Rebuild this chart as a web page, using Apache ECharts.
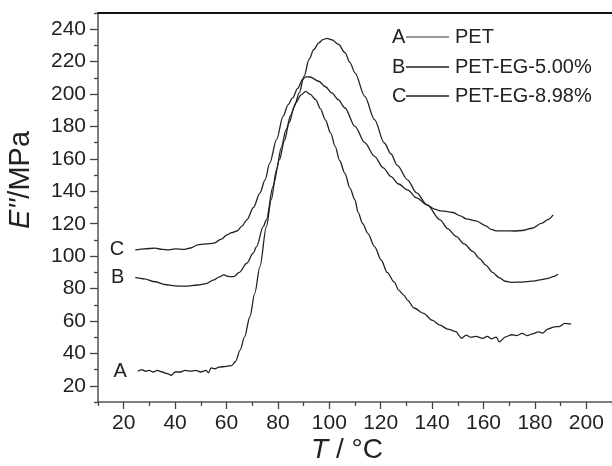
<!DOCTYPE html>
<html>
<head>
<meta charset="utf-8">
<script src="https://cdn.jsdelivr.net/npm/echarts@6/dist/echarts.min.js"></script>
<style>
  html, body { margin: 0; padding: 0; background: #fff; }
  #lossChart { width: 612px; height: 466px; }
</style>
</head>
<body>
<div id="lossChart"></div>
<script>
  // E'' vs T: [T (°C), E'' (MPa)]
  let curveA = [
    [25.5, 29], [27, 30], [28.5, 29], [30, 29.5], [31.5, 28.5], [33, 29.5], [35, 28.5], [37, 27.5], [38.5, 26.5],
    [40, 28.5], [42, 28.5], [44, 29.5], [46, 29], [48, 29.5], [50, 28.5], [52, 29.5], [53, 28], [54, 31],
    [55.5, 30.5], [57, 31.5], [60, 32], [62, 32.5], [63.5, 35], [65.3, 42], [67, 50], [69.1, 62.6], [71, 77],
    [73, 93.5], [75.5, 118], [77.4, 134.7], [79.4, 153], [81.3, 167], [83.2, 178], [85, 187], [87, 194.7],
    [89, 199.5], [90.8, 201.7], [92.5, 200], [94.7, 196.6], [96.5, 191], [98.5, 184], [100.5, 176], [102.3, 167.7],
    [104, 159], [106.1, 151], [108, 142], [110, 134.7], [111.2, 127], [113, 120], [115, 114], [117.6, 105.9],
    [120.2, 97.6], [122.5, 90], [125.3, 84], [127, 79], [129, 76], [130.4, 72.9], [133, 68], [136.7, 64.7],
    [140, 60.5], [143.1, 57.4], [146, 55], [149.5, 53.3], [150.5, 51], [151.4, 49.2], [153.3, 51.2], [155, 50],
    [157, 50.5], [159.7, 49.2], [161.5, 50.5], [163, 49], [165, 50], [166.1, 47.1], [168.6, 50.2], [171, 51.5],
    [173, 51], [175, 52.3], [177, 51], [179, 52], [181.4, 53.3], [183, 52.5], [185, 55], [187.7, 56.4],
    [189.5, 56.5], [191.6, 58.5], [194.1, 58]
  ]
  let curveB = [
    [24.5, 86.9], [28, 86], [32.2, 84.2], [36, 82.5], [39.8, 81.6], [44, 81.5], [48.8, 82.2], [52, 83], [55.1, 85.3],
    [57, 87], [59, 88.4], [60.5, 87.5], [62.8, 87.3], [65, 90], [67.9, 95.6], [70.4, 101.8], [71.7, 105.9],
    [74.3, 118.2], [75.5, 122.4], [78.1, 143], [80.6, 159.5], [82.5, 171], [84.4, 182.2], [86.3, 192], [88.3, 200.7],
    [90.2, 211], [92.1, 221.3], [94, 227.5], [95.9, 231.6], [97.5, 233.6], [99.1, 234.3], [101, 233.5],
    [103.6, 230.6], [106.1, 225.5], [108, 219.5], [110, 213.1], [113.8, 198.6], [117.6, 184.2], [121.4, 169.8],
    [124, 163], [126.5, 156], [130.4, 147.1], [134, 139], [138, 131.6], [143.1, 122.4], [146, 117], [149.5, 112],
    [152.5, 107.5], [155.9, 102.8], [158.5, 98.5], [160.9, 94.5], [163.5, 90], [166.1, 86.7], [168.5, 84.5],
    [171.2, 83.8], [175, 84], [178.9, 84.6], [182, 85.3], [185.2, 86.3], [187, 87.3], [189, 88.8]
  ]
  let curveC = [
    [24.5, 103.8], [28, 104.5], [32.2, 104.9], [35, 104.2], [37.3, 103.8], [40, 104.5], [43.7, 104.2], [46, 105],
    [48.8, 106.9], [52, 107.5], [55.1, 108], [58, 110.5], [60.2, 113.1], [62, 114.5], [64.1, 115.5], [66, 118.5],
    [67.9, 122.4], [70.5, 130], [73, 138.9], [75, 147], [76.8, 157.4], [79.5, 172], [82, 186.2], [84, 193.5],
    [85.7, 197.6], [87.7, 203.5], [89.6, 209], [90.8, 210.6], [92.5, 210.5], [95.9, 207.9], [98.5, 204.5],
    [101, 200.7], [103.5, 196.5], [106.1, 191.4], [110, 180], [113.8, 170], [117.6, 161.5], [121, 154.5],
    [124, 149.1], [127, 144.5], [130.4, 140.9], [134, 136], [138, 131.6], [141, 129], [143.1, 127.9], [146, 127.5],
    [148.2, 126.9], [151, 124.8], [153.3, 123], [157.1, 121.8], [160.9, 118.7], [163, 116.5], [164.8, 115.6],
    [168.6, 115.6], [172, 115.5], [175, 115.8], [178.9, 117.2], [182.7, 120.3], [185, 122.5], [187.1, 125.5]
  ]
  let seriesNames = ['PET', 'PET-EG-5.00%', 'PET-EG-8.98%']
  let curveLetters = ['A', 'B', 'C']
  let xMajorTicks = [20, 40, 60, 80, 100, 120, 140, 160, 180, 200]
  let xMinorTicks = [10, 30, 50, 70, 90, 110, 130, 150, 170, 190, 210]
  let yMajorTicks = [20, 40, 60, 80, 100, 120, 140, 160, 180, 200, 220, 240]
  let yMinorTicks = [10, 30, 50, 70, 90, 110, 130, 150, 170, 190, 210, 230, 250]

  const font = "'Liberation Sans', Arial, sans-serif"
  const ink = '#222'

  function withLetter(points, letter) {
    return points.map((p, i) => {
      if (i > 0) return p
      return {
        value: p,
        label: {
          show: true,
          formatter: letter,
          position: 'left',
          distance: 11,
          fontFamily: font,
          fontSize: 20,
          color: ink
        }
      }
    })
  }

  function makeSeries(name, points, letter) {
    return {
      name: name,
      type: 'line',
      data: withLetter(points, letter),
      smooth: 0.3,
      smoothMonotone: 'x',
      showSymbol: true,
      symbolSize: 0,
      silent: true,
      lineStyle: { color: ink, width: 1.3 },
      itemStyle: { color: ink },
      label: { show: false }
    }
  }

  function legendRow(y, letter, text, lineColor) {
    return {
      type: 'group',
      children: [
        { type: 'text', x: 392, y: y, style: { text: letter, font: '20px ' + font, fill: ink, verticalAlign: 'middle' } },
        { type: 'line', shape: { x1: 406, y1: y, x2: 449, y2: y }, style: { stroke: lineColor, lineWidth: 1.3 } },
        { type: 'text', x: 455, y: y, style: { text: text, font: '20px ' + font, fill: ink, verticalAlign: 'middle' } }
      ]
    }
  }

  let axisLineStyle = { color: '#555', width: 1.5 }

  let mychart = echarts.init(document.getElementById('lossChart'), null, { renderer: 'canvas' })
  let option = {
    animation: false,
    backgroundColor: '#fff',
    grid: { left: 98, top: 13, right: -10, bottom: 64 },
    xAxis: [
      {
        type: 'value',
        position: 'bottom',
        min: 10,
        max: 210,
        axisLine: { show: true, lineStyle: axisLineStyle },
        axisTick: { show: true, customValues: xMajorTicks, length: 7, lineStyle: { color: '#444', width: 1.3 } },
        axisLabel: { customValues: xMajorTicks, margin: 11, fontFamily: font, fontSize: 21, color: ink },
        splitLine: { show: false }
      },
      {
        type: 'value',
        position: 'bottom',
        min: 10,
        max: 210,
        axisLine: { show: false },
        axisTick: { show: true, customValues: xMinorTicks, length: 4, lineStyle: { color: '#444', width: 1.3 } },
        axisLabel: { show: false },
        splitLine: { show: false }
      },
      {
        type: 'value',
        position: 'top',
        min: 10,
        max: 210,
        axisLine: { show: true, lineStyle: { color: '#111', width: 2 } },
        axisTick: { show: false },
        axisLabel: { show: false },
        splitLine: { show: false }
      }
    ],
    yAxis: [
      {
        type: 'value',
        position: 'left',
        min: 10,
        max: 250,
        axisLine: { show: true, lineStyle: axisLineStyle },
        axisTick: { show: true, customValues: yMajorTicks, length: 8, lineStyle: { color: '#444', width: 1.3 } },
        axisLabel: { customValues: yMajorTicks, margin: 12, fontFamily: font, fontSize: 21, color: ink },
        splitLine: { show: false }
      },
      {
        type: 'value',
        position: 'left',
        min: 10,
        max: 250,
        axisLine: { show: false },
        axisTick: { show: true, customValues: yMinorTicks, length: 4, lineStyle: { color: '#444', width: 1.3 } },
        axisLabel: { show: false },
        splitLine: { show: false }
      }
    ],
    graphic: [
      {
        type: 'text',
        x: 21,
        y: 180,
        rotation: Math.PI / 2,
        style: {
          text: "{i|E''}/MPa",
          font: '29px ' + font,
          fill: ink,
          align: 'center',
          verticalAlign: 'middle',
          rich: { i: { fontStyle: 'italic', fontSize: 29, fontFamily: font, fill: ink } }
        }
      },
      {
        type: 'text',
        x: 347,
        y: 450,
        style: {
          text: '{i|T} / °C',
          font: '28px ' + font,
          fill: ink,
          align: 'center',
          verticalAlign: 'middle',
          rich: { i: { fontStyle: 'italic', fontSize: 28, fontFamily: font, fill: ink } }
        }
      },
      legendRow(37, curveLetters[0], seriesNames[0], '#777'),
      legendRow(67, curveLetters[1], seriesNames[1], ink),
      legendRow(96, curveLetters[2], seriesNames[2], ink)
    ],
    series: [
      makeSeries(seriesNames[0], curveA, curveLetters[0]),
      makeSeries(seriesNames[1], curveB, curveLetters[1]),
      makeSeries(seriesNames[2], curveC, curveLetters[2])
    ]
  }
  mychart.setOption(option)
</script>
</body>
</html>
